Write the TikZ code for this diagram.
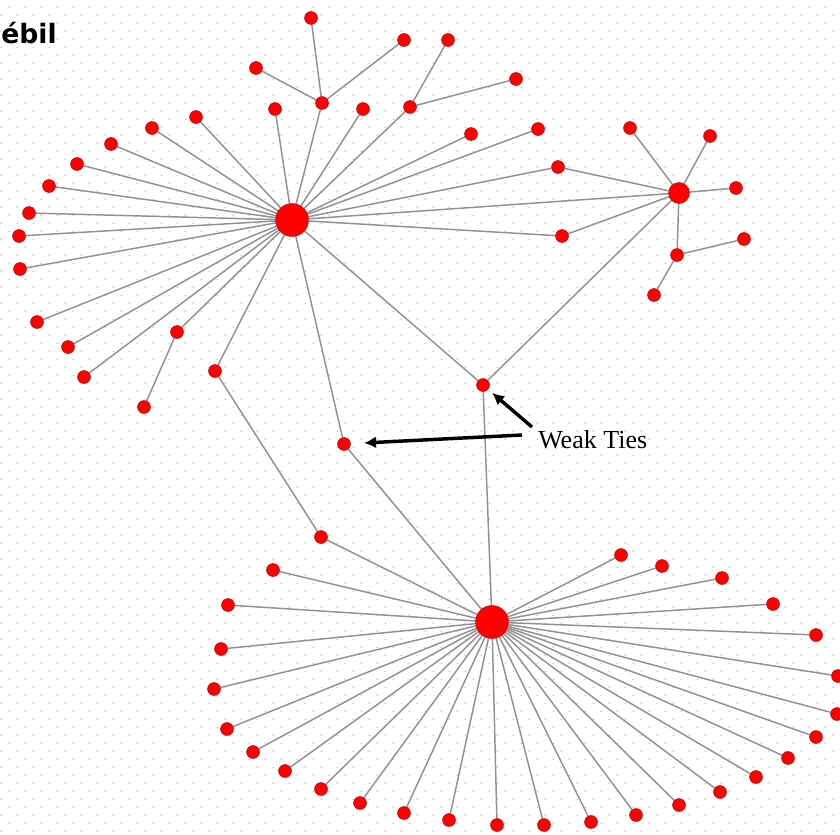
\documentclass[tikz,border=0pt]{standalone}
\usepackage{fontspec}
\usepackage{tikz}
\usetikzlibrary{
  arrows.meta,
  backgrounds
}
\setmainfont{Liberation Serif}
\newfontfamily\headfont{DejaVu Sans}
\definecolor{myred}{RGB}{255,0,0}
\definecolor{myrim}{RGB}{165,0,0}
\definecolor{mygray}{RGB}{145,145,145}
\definecolor{mydot}{RGB}{185,185,185}
% leaves hanging off a go-between: parent/x/y
\newcommand\twigs{s1/311/18, s1/404/40, s1/256/68, s2/448/40, s2/516/79,
  a14/144/407, C/630/128, C/710/136, C/736/188, s3/744/239, s3/654/295}

\begin{document}
\begin{tikzpicture}[
  x=0.75pt, y=-0.75pt,
  leaf/.style={
    circle,
    draw=myrim,
    line width=0.3pt,
    fill=myred,
    inner sep=0pt,
    minimum size=9.75pt
    },
  hub/.style={
    leaf,
    minimum size=#1
    },
  tie/.style={
    draw=mygray,
    line width=1.1pt
    },
  pointer/.style={
    draw=black,
    line width=2.6pt,
    -{Latex[length=9pt,width=9pt]},
    shorten >=#1
  }
]
\useasboundingbox (0,0) rectangle (840,835);
\clip (0,0) rectangle (840,835);

% the three stars
\node[hub=24.75pt] (A) at (292,220) {};
\node[hub=24.75pt] (B) at (492,622) {};
\node[hub=15.75pt] (C) at (679,193) {};

% go-betweens
\node[leaf] (s1) at (322,103) {};
\node[leaf] (s2) at (410,107) {};
\node[leaf] (s3) at (677,255) {};
\node[leaf] (q1) at (558,167) {};
\node[leaf] (q2) at (562,236) {};
\node[leaf] (p1) at (215,371) {};
\node[leaf] (p2) at (321,537) {};
\node[leaf] (w1) at (483,385) {};
\node[leaf] (w2) at (344,444) {};

% leaves of A
\foreach \x/\y [count=\i] in {275/109, 363/109, 196/117, 152/128, 111/144,
  77/164, 49/186, 29/213, 19/236, 20/269, 37/322, 68/347, 84/377, 177/332,
  471/134, 538/129}
  \node[leaf] (a\i) at (\x,\y) {};

% leaves of B
\foreach \x/\y [count=\i] in {273/570, 228/605, 221/649, 214/689, 227/729,
  253/752, 285/771, 321/789, 360/803, 404/813, 449/820, 497/825, 544/825,
  591/822, 636/815, 679/805, 720/792, 756/777, 788/758, 816/737, 837/714,
  838/676, 816/635, 773/604, 722/578, 662/566, 621/555}
  \node[leaf] (b\i) at (\x,\y) {};

\foreach \p/\x/\y [count=\i] in \twigs
  \node[leaf] (l\i) at (\x,\y) {};

\node[anchor=base west, inner sep=0pt,
  font=\headfont\bfseries\fontsize{20}{24}\selectfont]
  (title) at (1,43) {ébil};
\node[anchor=base west, inner sep=0pt,
  font=\fontsize{19.5}{22}\selectfont]
  (weak) at (538,448) {Weak Ties};
\coordinate (t1) at (522,435);
\coordinate (t2) at (532,427);
\draw[pointer=10pt] (t1) -- (w2);
\draw[pointer=4pt] (t2) -- (w1);

\begin{scope}[on background layer]
  % dotted paper, one row at a time
  \foreach \j in {0,...,52} {
    \fill[mydot] \foreach \k in {0,...,52} {
      (9.3+16*\k, 7.3+16*\j) circle (0.8)
    };
    \fill[mydot] \foreach \k in {0,...,52} {
      (1.3+16*\k, 15.3+16*\j) circle (0.8)
    };
  }
  \foreach \i in {1,...,16} \draw[tie] (A) -- (a\i);
  \foreach \i in {1,...,27} \draw[tie] (B) -- (b\i);
  \foreach \p/\x/\y [count=\i] in \twigs \draw[tie] (\p) -- (l\i);
  \foreach \u/\v in {A/s1, A/s2, A/q1, A/q2, A/C, A/p1, A/w2, A/w1,
    C/q1, C/q2, C/s3, C/w1, B/w1, B/w2, B/p2, p1/p2}
    \draw[tie] (\u) -- (\v);
\end{scope}
\end{tikzpicture}
\end{document}
